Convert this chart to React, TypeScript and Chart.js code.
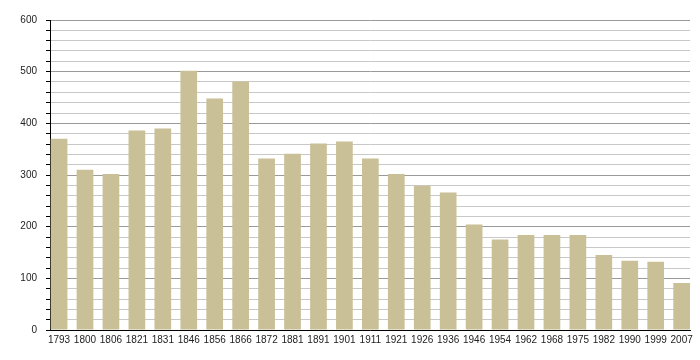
import React, { useEffect, useRef } from "react";
import { Chart, registerables } from "chart.js";

Chart.register(...registerables);

const years: string[] = [
  "1793", "1800", "1806", "1821", "1831", "1846", "1856", "1866", "1872", "1881",
  "1891", "1901", "1911", "1921", "1926", "1936", "1946", "1954", "1962", "1968",
  "1975", "1982", "1990", "1999", "2007",
];
const population: number[] = [
  370, 310, 302, 386, 390, 502, 448, 481, 332, 341,
  361, 365, 332, 302, 279, 266, 204, 175, 184, 184,
  184, 145, 134, 132, 91,
];
const yMin = 0;
const yMax = 600;
const yMinorStep = 20;
const yMajorStep = 100;

export default function App() {
  const ref = useRef<HTMLCanvasElement | null>(null);
  useEffect(() => {
    if (!ref.current) return;
    const n = years.length;
    const chart = new Chart(ref.current, {
      type: "bar",
      data: {
        datasets: [
          {
            data: population.map((v, i) => ({ x: i, y: v })),
            backgroundColor: "rgb(201,192,152)",
            borderWidth: 0,
            barPercentage: 0.644,
            categoryPercentage: 1,
          },
        ],
      },
      options: {
        animation: false,
        responsive: false,
        maintainAspectRatio: false,
        layout: { padding: { top: 20, right: 10, left: 0, bottom: 0 } },
        plugins: { legend: { display: false }, tooltip: { enabled: false } },
        scales: {
          x: {
            type: "linear",
            offset: false,
            min: -0.349,
            max: n - 1 + 0.322,
            grid: { display: false, drawTicks: false },
            border: { display: true, color: "#000", width: 1 },
            ticks: {
              stepSize: 1,
              includeBounds: false,
              autoSkip: false,
              maxRotation: 0,
              padding: 4,
              color: "#222",
              font: { family: "'Liberation Sans', Arial, sans-serif", size: 10 },
              callback: (v: any) => {
                const idx = Math.round(Number(v));
                return Number.isInteger(Number(v)) && years[idx] ? years[idx] : "";
              },
            },
            afterFit: (scale: any) => {
              scale.height = 30;
            },
          },
          y: {
            min: yMin,
            max: yMax,
            border: { display: true, color: "#000", width: 1 },
            grid: {
              color: (ctx: any) =>
                ctx.tick && ctx.tick.value % yMajorStep === 0 ? "#9a9a9a" : "#c8c8c8",
              tickColor: "#000",
              tickLength: 4,
              lineWidth: 1,
            },
            ticks: {
              stepSize: yMinorStep,
              autoSkip: false,
              padding: 9,
              color: "#222",
              font: { family: "'Liberation Sans', Arial, sans-serif", size: 10 },
              callback: (v: any) => (Number(v) % yMajorStep === 0 ? String(v) : ""),
            },
            afterFit: (scale: any) => {
              scale.width = 50;
            },
          },
        },
      },
    });
    return () => chart.destroy();
  }, []);
  return (
    <div style={{ position: "absolute", left: 0, top: 0, width: 700, height: 360, background: "#fff" }}>
      <canvas ref={ref} width={700} height={360} style={{ width: 700, height: 360, display: "block" }} />
    </div>
  );
}
